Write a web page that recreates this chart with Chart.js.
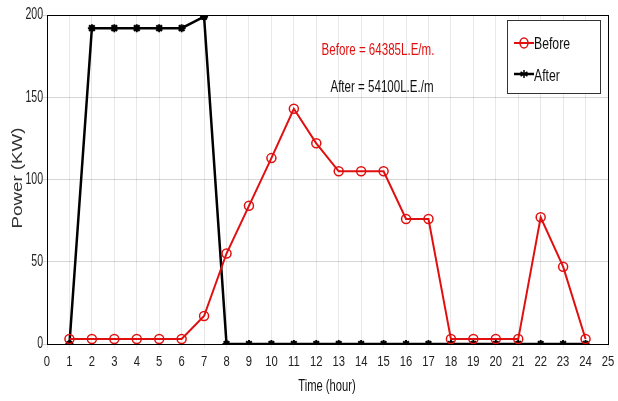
<!DOCTYPE html>
<html>
<head>
<meta charset="utf-8">
<script src="https://cdn.jsdelivr.net/npm/chart.js@4.4.1/dist/chart.umd.min.js"></script>
<style>
  html, body { margin: 0; padding: 0; background: #fff; }
  #wrap { width: 618px; height: 401px; }
</style>
</head>
<body>
<div id="wrap"><canvas id="grafico" width="618" height="401"></canvas></div>
<script>
const horas = [1, 2, 3, 4, 5, 6, 7, 8, 9, 10, 11, 12, 13, 14, 15, 16, 17, 18, 19, 20, 21, 22, 23, 24];
const antes = [3, 3, 3, 3, 3, 3, 17, 55, 84, 113, 143, 122, 105, 105, 105, 76, 76, 3, 3, 3, 3, 77, 47, 3];
const despues = [0, 192, 192, 192, 192, 192, 199, 0, 0, 0, 0, 0, 0, 0, 0, 0, 0, 0, 0, 0, 0, 0, 0, 0];
const xTicks = [0, 1, 2, 3, 4, 5, 6, 7, 8, 9, 10, 11, 12, 13, 14, 15, 16, 17, 18, 19, 20, 21, 22, 23, 24, 25];
const yTicks = [0, 50, 100, 150, 200];
const notaAntes = "Before = 64385L.E/m.";
const notaDespues = "After = 54100L.E./m";

const fuente = "'Liberation Sans', Arial, sans-serif";
const rojo = "#e01010";

// texto angosto (la fuente original es condensada)
function textoAngosto(c, txt, x, y, size, sx, align, color) {
    c.save();
    c.font = size + "px " + fuente;
    c.textAlign = align;
    c.textBaseline = "middle";
    c.fillStyle = color;
    c.translate(x, y);
    c.scale(sx, 1);
    c.fillText(txt, 0, 0);
    c.restore();
}

// marco, etiquetas, leyenda y textos al estilo MATLAB
const extras = {
    id: "extras",
    afterDraw(chart) {
        const c = chart.ctx;
        const a = chart.chartArea;
        const sx = chart.scales.x;
        const sy = chart.scales.y;
        c.save();
        c.strokeStyle = "#000";
        c.lineWidth = 1;
        c.strokeRect(a.left + 0.5, a.top + 0.5, a.right - a.left, a.bottom - a.top);

        // etiquetas de los ejes
        xTicks.forEach(v => textoAngosto(c, String(v), sx.getPixelForValue(v), 362, 15, 0.75, "center", "#222"));
        yTicks.forEach(v => textoAngosto(c, String(v), 43, sy.getPixelForValue(v), 16, 0.66, "right", "#222"));

        // textos de costo
        textoAngosto(c, notaAntes, 378, 50, 17, 0.68, "center", rojo);
        textoAngosto(c, notaDespues, 382, 87, 17, 0.68, "center", "#111");

        // leyenda
        c.fillStyle = "#fff";
        c.fillRect(507, 20, 93, 73);
        c.strokeStyle = "#333";
        c.strokeRect(507.5, 20.5, 93, 73);
        c.lineWidth = 2;
        c.strokeStyle = rojo;
        c.beginPath(); c.moveTo(514, 43); c.lineTo(534, 43); c.stroke();
        c.lineWidth = 1.5;
        c.beginPath(); c.ellipse(524, 43, 4, 5, 0, 0, Math.PI * 2); c.stroke();
        c.strokeStyle = "#000";
        c.lineWidth = 2.5;
        c.beginPath(); c.moveTo(514, 74); c.lineTo(534, 74); c.stroke();
        c.lineWidth = 1.5;
        for (let k = 0; k < 3; k++) {
            const ang = Math.PI / 2 + k * Math.PI / 3;
            c.beginPath();
            c.moveTo(524 - 4 * Math.cos(ang), 74 - 4 * Math.sin(ang));
            c.lineTo(524 + 4 * Math.cos(ang), 74 + 4 * Math.sin(ang));
            c.stroke();
        }
        textoAngosto(c, "Before", 534, 44, 17, 0.72, "left", "#111");
        textoAngosto(c, "After", 534, 76, 17, 0.72, "left", "#111");

        // titulos de ejes
        textoAngosto(c, "Time (hour)", 327, 387, 16, 0.7, "center", "#111");
        c.translate(18, 178);
        c.rotate(-Math.PI / 2);
        c.scale(1.25, 1);
        c.font = "15px " + fuente;
        c.textAlign = "center";
        c.textBaseline = "middle";
        c.fillStyle = "#333";
        c.fillText("Power (KW)", 0, 0);
        c.restore();
    }
};

new Chart(document.getElementById("grafico"), {
    type: "line",
    data: {
        labels: horas,
        datasets: [{
            label: "Before",
            data: horas.map((h, i) => ({ x: h, y: antes[i] })),
            borderColor: rojo,
            borderWidth: 2,
            pointStyle: "circle",
            pointRadius: 4.5,
            pointBorderWidth: 1.5,
            pointBorderColor: rojo,
            pointBackgroundColor: "rgba(0,0,0,0)",
            tension: 0
        }, {
            label: "After",
            data: horas.map((h, i) => ({ x: h, y: despues[i] })),
            borderColor: "#000",
            borderWidth: 2.5,
            pointStyle: "star",
            pointRadius: 4,
            pointBorderWidth: 2,
            pointBorderColor: "#000",
            pointBackgroundColor: "#000",
            tension: 0
        }]
    },
    options: {
        responsive: false,
        animation: false,
        layout: { padding: { left: 0, right: 10, top: 15, bottom: 0 } },
        plugins: { legend: { display: false }, tooltip: { enabled: false } },
        scales: {
            x: {
                type: "linear",
                min: 0,
                max: 25,
                afterBuildTicks: s => { s.ticks = xTicks.map(v => ({ value: v })); },
                afterFit: s => { s.height = 57; },
                ticks: { display: false },
                grid: { color: "rgba(0,0,0,0.09)", tickLength: 4 },
                border: { color: "#000" }
            },
            y: {
                min: 0,
                max: 200,
                afterBuildTicks: s => { s.ticks = yTicks.map(v => ({ value: v })); },
                afterFit: s => { s.width = 47; },
                ticks: { display: false },
                grid: { color: "rgba(0,0,0,0.16)", tickLength: 4 },
                border: { color: "#000" }
            }
        }
    },
    plugins: [extras]
});
</script>
</body>
</html>
